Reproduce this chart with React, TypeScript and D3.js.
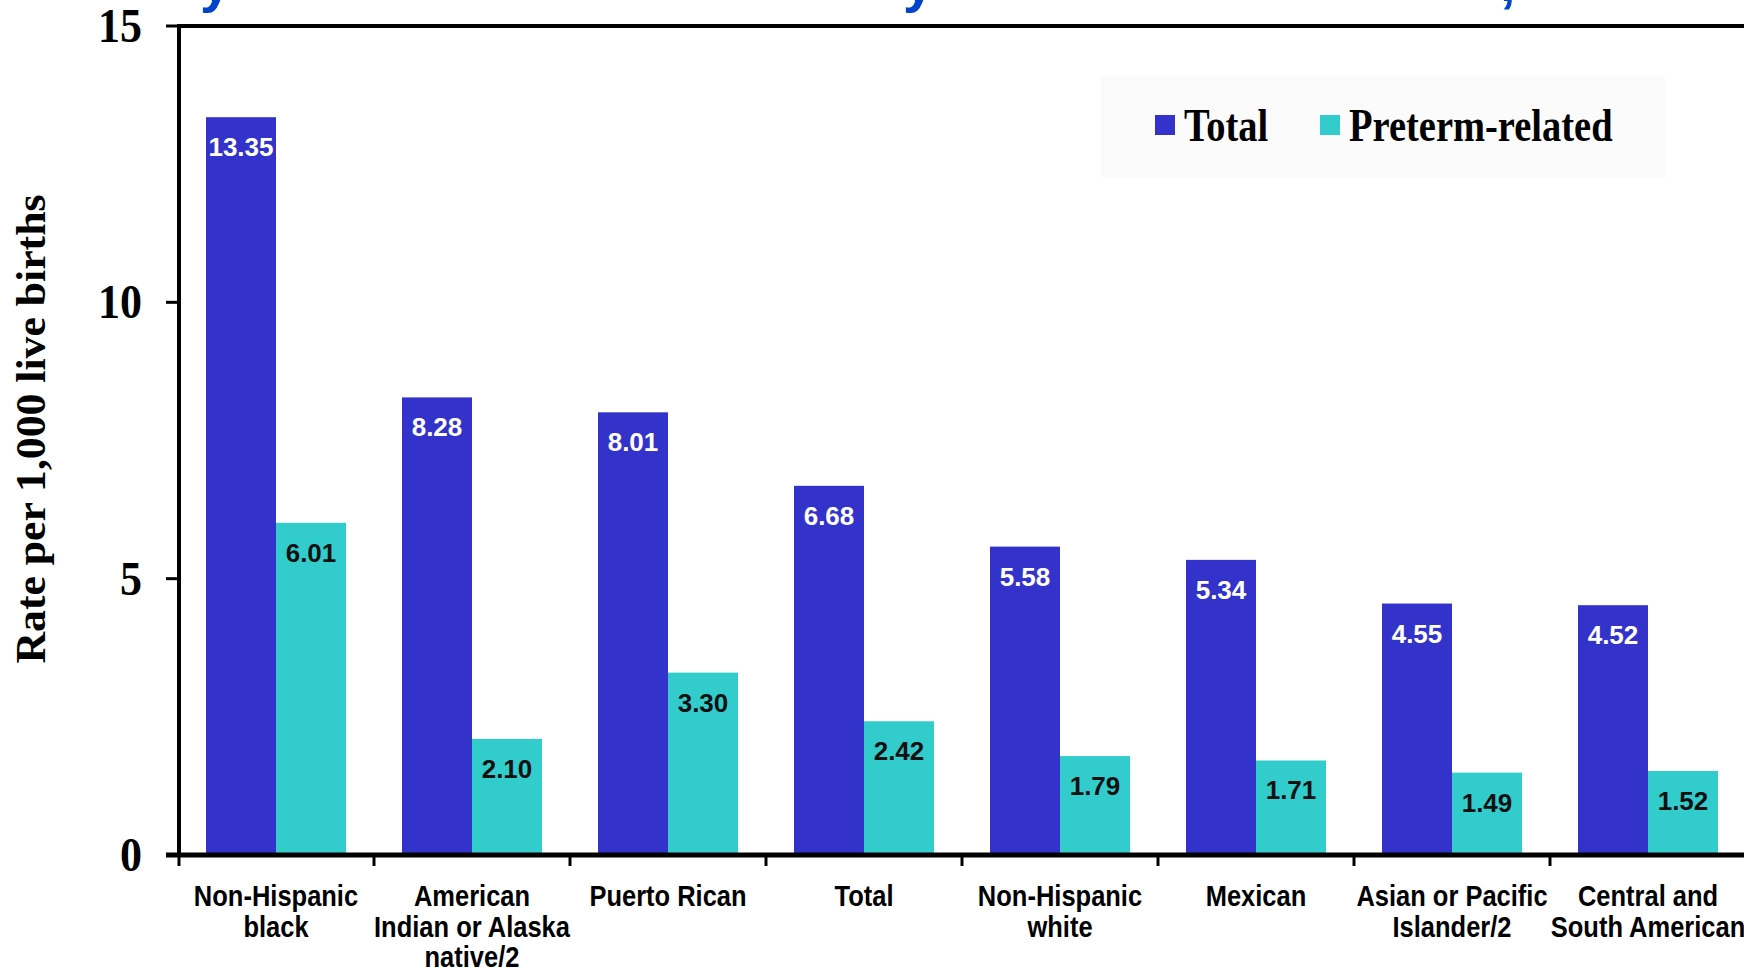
import React from "react";
import * as d3 from "d3";

const categories: string[][] = [
  ["Non-Hispanic", "black"],
  ["American", "Indian or Alaska", "native/2"],
  ["Puerto Rican"],
  ["Total"],
  ["Non-Hispanic", "white"],
  ["Mexican"],
  ["Asian or Pacific", "Islander/2"],
  ["Central and", "South American"],
];
const seriesNames = ["Total", "Preterm-related"];
const totalValues = [13.35, 8.28, 8.01, 6.68, 5.58, 5.34, 4.55, 4.52];
const pretermValues = [6.01, 2.1, 3.3, 2.42, 1.79, 1.71, 1.49, 1.52];
const yTicks = [0, 5, 10, 15];
const titleFragments = ["y", "y", ","];

const W = 1744;
const H = 968;
const BLUE = "#3333cc";
const CYAN = "#33cccc";
const SERIF = "'Liberation Serif', 'Times New Roman', serif";
const SANS = "'Liberation Sans', Arial, sans-serif";

export default function App() {
  const left = 178;
  const bandW = 196;
  const catKeys = categories.map((c) => c.join(" "));
  const x = d3.scaleBand<string>().domain(catKeys).range([left, left + bandW * catKeys.length]).paddingInner(0).paddingOuter(0);
  const x1 = d3.scaleBand<string>().domain(seriesNames).range([28, 168]).padding(0);
  const y = d3.scaleLinear().domain([0, 15]).range([855, 26]);
  const colors = [BLUE, CYAN];
  const values = [totalValues, pretermValues];
  const titleX = [200, 903, 1500];

  return (
    <svg width={W} height={H} style={{ position: "absolute", left: 0, top: 0, background: "#fff" }}>
      <rect x={0} y={0} width={W} height={H} fill="#ffffff" />
      {/* cut-off title remnants */}
      {titleFragments.map((t, i) => (
        <text key={"t" + i} x={titleX[i]} y={0.5} fontFamily={SANS} fontWeight="bold" fontSize={56} fill="#0044cc">
          {t}
        </text>
      ))}
      {/* legend */}
      <rect x={1101} y={76} width={564} height={102} fill="#fbfbfb" />
      {seriesNames.map((s, i) => {
        const lx = [1155, 1320][i];
        return (
          <g key={s}>
            <rect x={lx} y={115} width={20} height={20} fill={colors[i]} />
            <g transform={`translate(${lx + 29},141) scale(1,1.18)`}>
              <text x={0} y={0} fontFamily={SERIF} fontWeight="bold" fontSize={38.5} fill="#000">
                {s}
              </text>
            </g>
          </g>
        );
      })}
      {/* bars */}
      {catKeys.map((c, ci) => (
        <g key={c} transform={`translate(${x(c)},0)`}>
          {seriesNames.map((s, si) => {
            const v = values[si][ci];
            const bx = x1(s)!;
            const bw = x1.bandwidth();
            return (
              <g key={s}>
                <rect x={bx} y={y(v)} width={bw} height={y(0) - y(v)} fill={colors[si]} />
                <text
                  x={bx + bw / 2}
                  y={y(v) + 39}
                  textAnchor="middle"
                  fontFamily={SANS}
                  fontWeight="bold"
                  fontSize={26}
                  fill={si === 0 ? "#ffffff" : "#111111"}
                >
                  {v.toFixed(2)}
                </text>
              </g>
            );
          })}
        </g>
      ))}
      {/* axes */}
      <line x1={left} x2={W} y1={y(15)} y2={y(15)} stroke="#000" strokeWidth={4} />
      <line x1={left + 1} x2={left + 1} y1={y(15) - 2} y2={y(0) + 2} stroke="#000" strokeWidth={4} />
      <line x1={166} x2={W} y1={y(0)} y2={y(0)} stroke="#000" strokeWidth={5} />
      {yTicks.map((t) => (
        <g key={t}>
          <line x1={166} x2={left} y1={y(t)} y2={y(t)} stroke="#000" strokeWidth={3} />
          <g transform={`translate(142,${y(t) + 16}) scale(1,1.1)`}>
            <text x={0} y={0} textAnchor="end" fontFamily={SERIF} fontWeight="bold" fontSize={44} fill="#000">
              {t}
            </text>
          </g>
        </g>
      ))}
      {catKeys.map((c, i) => (
        <line key={"tk" + i} x1={x(c)! + (i === 0 ? 1 : 0)} x2={x(c)! + (i === 0 ? 1 : 0)} y1={y(0)} y2={y(0) + 11} stroke="#000" strokeWidth={3} />
      ))}
      {/* category labels */}
      {categories.map((lines, i) => {
        const cx = x(catKeys[i])! + bandW / 2;
        return lines.map((ln, li) => (
          <g key={i + "-" + li} transform={`translate(${cx},${906 + li * 30.5}) scale(1,1.18)`}>
            <text x={0} y={0} textAnchor="middle" fontFamily={SANS} fontWeight="bold" fontSize={25.5} fill="#000">
              {ln}
            </text>
          </g>
        ));
      })}
      {/* y axis title */}
      <text
        transform={`translate(45,429) rotate(-90)`}
        textAnchor="middle"
        fontFamily={SERIF}
        fontWeight="bold"
        fontSize={42}
        textLength={469}
        lengthAdjust="spacingAndGlyphs"
        fill="#000"
      >
        Rate per 1,000 live births
      </text>
    </svg>
  );
}
